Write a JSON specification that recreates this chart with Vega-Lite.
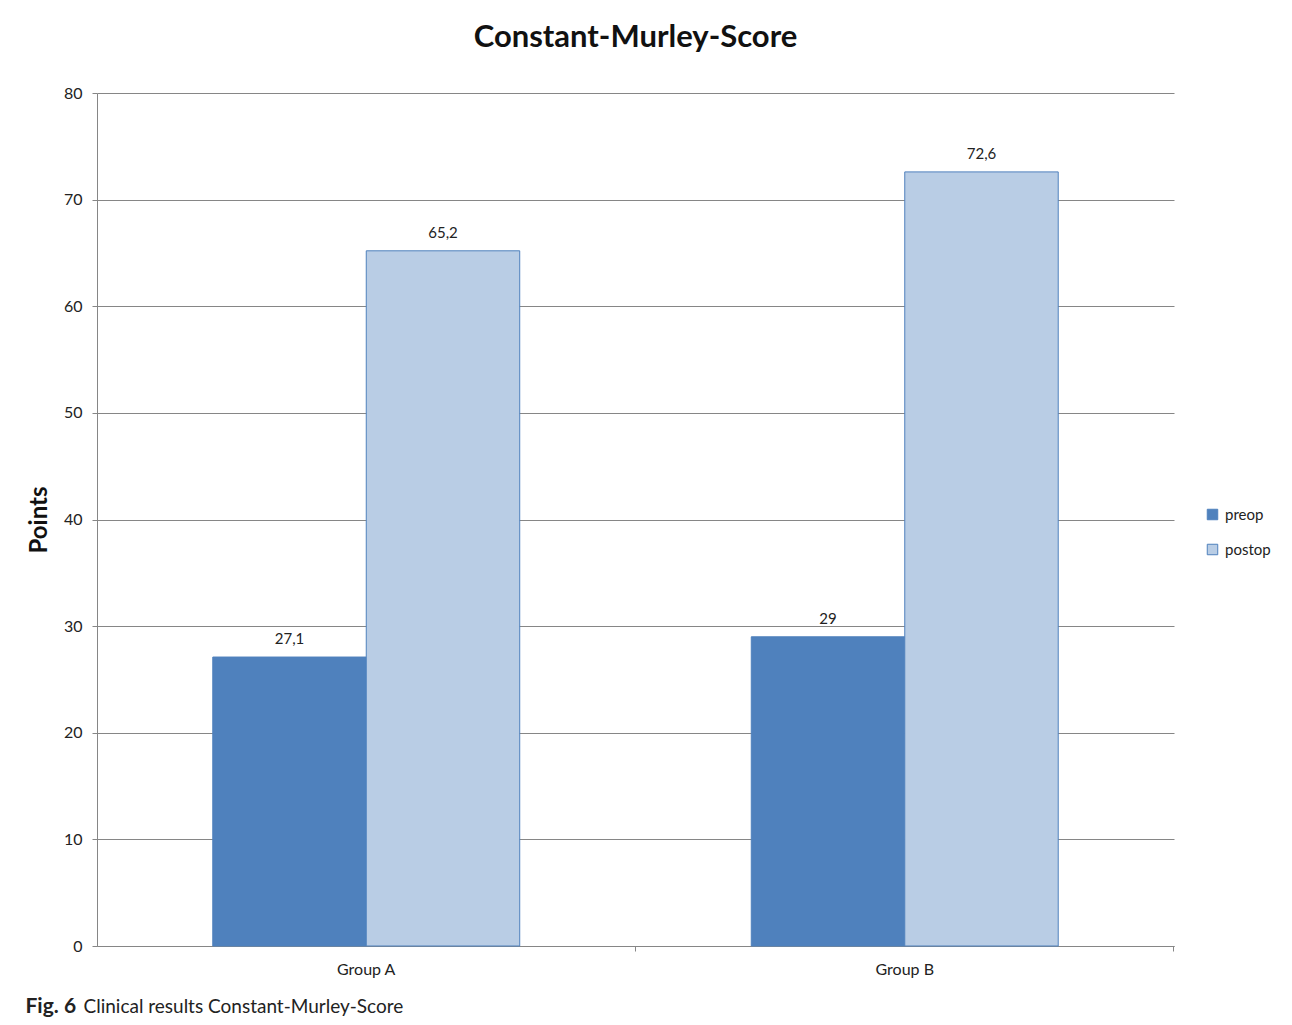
{
  "$schema": "https://vega.github.io/schema/vega-lite/v6.json",
  "width": 1077,
  "height": 853,
  "autosize": {"type": "none"},
  "padding": {"left": 97, "top": 93, "right": 118, "bottom": 79},
  "background": "white",
  "title": {
    "text": "Constant-Murley-Score",
    "font": "Lato",
    "fontSize": 31,
    "fontWeight": "bold",
    "color": "#111111",
    "anchor": "middle",
    "offset": 31
  },
  "config": {
    "locale": {"number": {"decimal": ",", "thousands": ".", "grouping": [3], "currency": ["", " €"]}},
    "view": {"stroke": null},
    "font": "Lato"
  },
  "data": {
    "values": [
      {"group": "Group A", "phase": "preop", "value": 27.1},
      {"group": "Group A", "phase": "postop", "value": 65.2},
      {"group": "Group B", "phase": "preop", "value": 29},
      {"group": "Group B", "phase": "postop", "value": 72.6}
    ]
  },
  "encoding": {
    "x": {
      "field": "group",
      "type": "nominal",
      "scale": {"paddingInner": 0.43, "paddingOuter": 0.215}
    },
    "xOffset": {
      "field": "phase",
      "type": "nominal",
      "sort": ["preop", "postop"],
      "scale": {"paddingInner": 0, "paddingOuter": 0}
    },
    "y": {
      "field": "value",
      "type": "quantitative",
      "scale": {"domain": [0, 80], "nice": false},
      "axis": {
        "values": [0, 10, 20, 30, 40, 50, 60, 70, 80],
        "title": "Points",
        "titleFont": "Lato",
        "titleFontSize": 24,
        "titleFontWeight": "bold",
        "titleColor": "#111111",
        "titlePadding": 12,
        "labelFont": "Lato",
        "labelFontSize": 16,
        "labelColor": "#222222",
        "labelPadding": 10,
        "tickSize": 5,
        "tickColor": "#868686",
        "domainColor": "#868686",
        "gridColor": "#868686",
        "grid": true
      }
    }
  },
  "layer": [
    {
      "mark": {"type": "bar", "stroke": "#4F81BD", "strokeWidth": 1},
      "encoding": {
        "x": {
          "field": "group",
          "type": "nominal",
          "axis": {
            "orient": "bottom",
            "labelAngle": 0,
            "labelFont": "Lato",
            "labelFontSize": 16,
            "labelColor": "#222222",
            "labelPadding": 15,
            "ticks": false,
            "domainColor": "#868686",
            "grid": false,
            "title": "Fig. 6",
            "titleFont": "Lato",
            "titleFontSize": 21,
            "titleFontWeight": "bold",
            "titleColor": "#222222",
            "titleAlign": "left",
            "titleAnchor": "start",
            "titleBaseline": "alphabetic",
            "titleX": -72,
            "titleY": 66
          }
        },
        "color": {
          "field": "phase",
          "type": "nominal",
          "scale": {"domain": ["preop", "postop"], "range": ["#4F81BD", "#B9CDE5"]},
          "legend": {
            "title": null,
            "orient": "none",
            "legendX": 1108,
            "legendY": 414,
            "symbolType": "square",
            "symbolSize": 110,
            "symbolStrokeWidth": 1,
            "labelFont": "Lato",
            "labelFontSize": 15,
            "labelColor": "#222222",
            "labelOffset": 5,
            "rowPadding": 19
          }
        }
      }
    },
    {
      "mark": {"type": "text", "baseline": "bottom", "dy": -10, "font": "Lato", "fontSize": 15, "color": "#222222"},
      "encoding": {
        "x": {
          "field": "group",
          "type": "nominal",
          "axis": {
            "orient": "bottom",
            "labels": false,
            "ticks": true,
            "bandPosition": 1.377,
            "tickSize": 5,
            "tickColor": "#868686",
            "domain": false,
            "grid": false,
            "title": "Clinical results Constant-Murley-Score",
            "titleFont": "Lato",
            "titleFontSize": 19,
            "titleFontWeight": "normal",
            "titleColor": "#222222",
            "titleAlign": "left",
            "titleAnchor": "start",
            "titleBaseline": "alphabetic",
            "titleX": -14,
            "titleY": 66
          }
        },
        "text": {"field": "value", "type": "quantitative", "format": ".3~g"}
      }
    }
  ],
  "resolve": {"axis": {"x": "independent"}}
}
